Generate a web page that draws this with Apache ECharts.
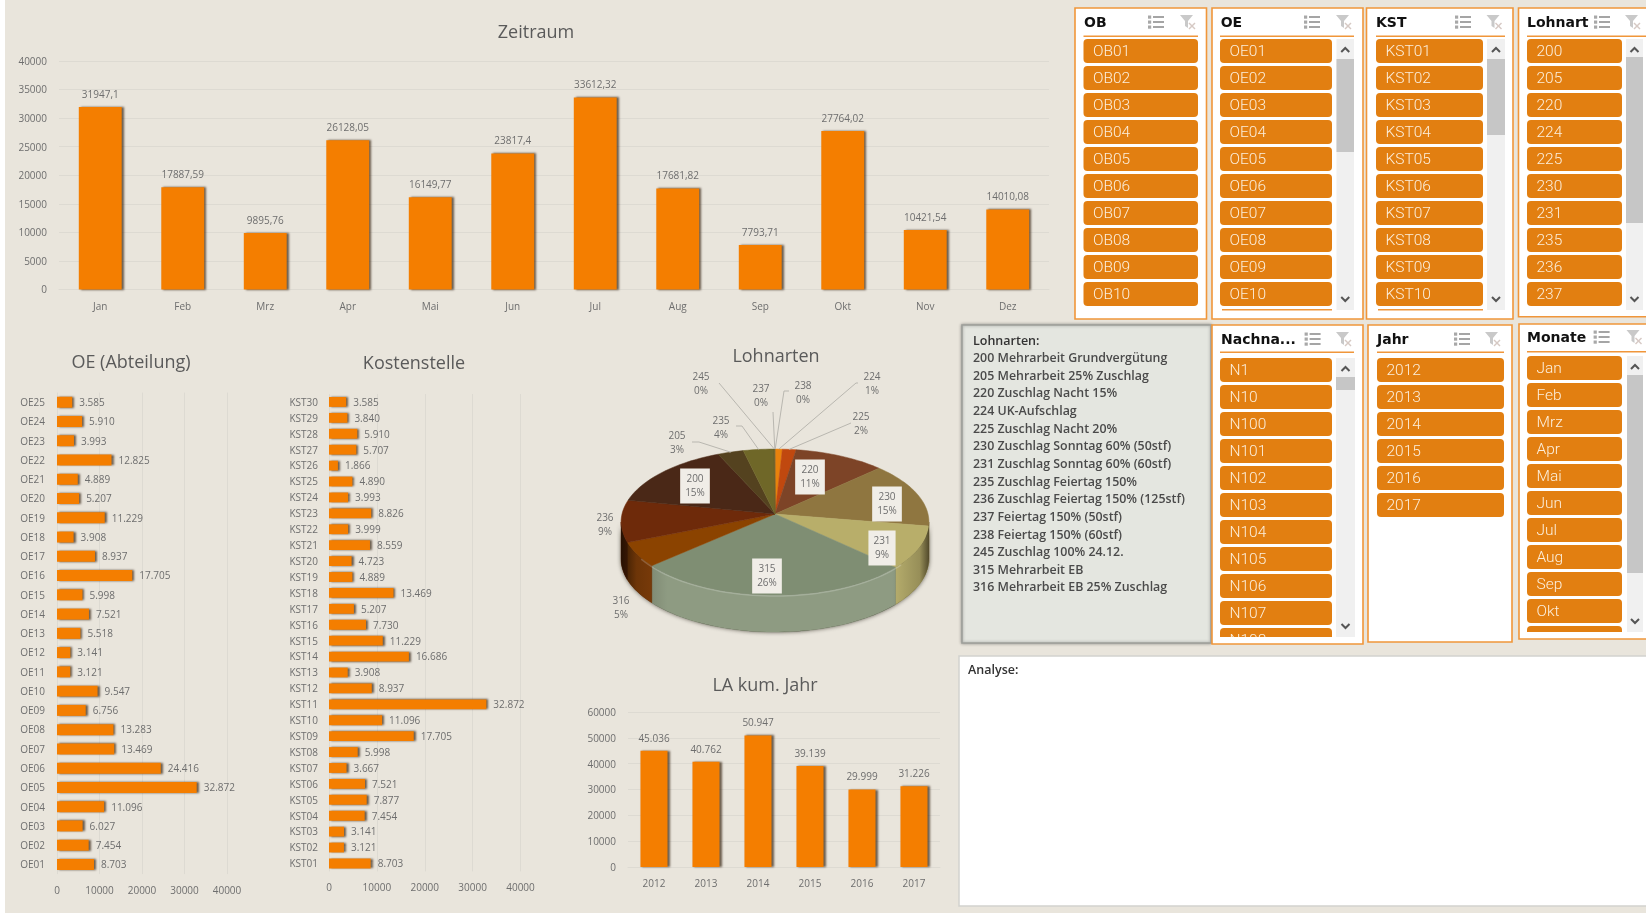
<!DOCTYPE html>
<html><head><meta charset="utf-8">
<style>html,body{margin:0;padding:0;background:#fff;overflow:hidden}#c{width:1646px;height:913px;filter:blur(.55px)}</style>
<script src="https://cdn.jsdelivr.net/npm/echarts@6/dist/echarts.min.js"></script>
</head><body><div id="c"></div>
<script>
const months = ['Jan','Feb','Mrz','Apr','Mai','Jun','Jul','Aug','Sep','Okt','Nov','Dez'];
const zeitraumValues = [31947.1,17887.59,9895.76,26128.05,16149.77,23817.4,33612.32,17681.82,7793.71,27764.02,10421.54,14010.08];
const oeNames = ['OE01','OE02','OE03','OE04','OE05','OE06','OE07','OE08','OE09','OE10','OE11','OE12','OE13','OE14','OE15','OE16','OE17','OE18','OE19','OE20','OE21','OE22','OE23','OE24','OE25'];
const oeValues = [8703,7454,6027,11096,32872,24416,13469,13283,6756,9547,3121,3141,5518,7521,5998,17705,8937,3908,11229,5207,4889,12825,3993,5910,3585];
const kstNames = ['KST01','KST02','KST03','KST04','KST05','KST06','KST07','KST08','KST09','KST10','KST11','KST12','KST13','KST14','KST15','KST16','KST17','KST18','KST19','KST20','KST21','KST22','KST23','KST24','KST25','KST26','KST27','KST28','KST29','KST30'];
const kstValues = [8703,3121,3141,7454,7877,7521,3667,5998,17705,11096,32872,8937,3908,16686,11229,7730,5207,13469,4889,4723,8559,3999,8826,3993,4890,1866,5707,5910,3840,3585];
const years = ['2012','2013','2014','2015','2016','2017'];
const yearValues = [45036,40762,50947,39139,29999,31226];
const pieNames = ['238','224','225','220','230','231','315','316','236','200','205','235','245','237'];
const pieValues = [0.05,0.8,1.6,10.6,14.6,9.4,26.4,5.4,9.3,15.2,3.0,3.6,0.05,0.05];
const pieColors = ['#A0772A','#E8820C','#C0480F','#7D4427','#8F7640','#B8AE6A','#7F8E73','#8B4300','#6E2A0A','#4A2817','#54421F','#6F6728','#5A4A20','#7A6A30'];
const pieWalls  = ['#A0772A','#E8820C','#C0480F','#7D4427','#7F6838','#B9B06E','#8E9B82','#84400A','#5E2408','#4A2817','#54421F','#6F6728','#5A4A20','#7A6A30'];
/* label centres relative to the pie centre, with an optional box flag */
const pieLabelLayout = [[28,-121,0],[97,-130,0],[86,-90,0],[35,-37,1],[112,-10,1],[107,34,1],[-8,62,1],[-154,94,0],[-170,11,0],[-80,-28,1],[-98,-71,0],[-54,-86,0],[-74,-130,0],[-14,-118,0]];
const pieLeaderLayout = [[14,-123,9,-123],[83,-131,81,-131],[76,-91,null,null],null,null,null,null,null,null,null,[-83,-72,-76,-72],[-39,-88,-33,-88],[-56,-131,null,null],[-2,-102,null,null]];
const lohnartenText = ['200 Mehrarbeit Grundvergütung','205 Mehrarbeit 25% Zuschlag','220 Zuschlag Nacht 15%','224 UK-Aufschlag','225 Zuschlag Nacht 20%','230 Zuschlag Sonntag 60% (50stf)','231 Zuschlag Sonntag 60% (60stf)','235 Zuschlag Feiertag 150%','236 Zuschlag Feiertag 150% (125stf)','237 Feiertag 150% (50stf)','238 Feiertag 150% (60stf)','245 Zuschlag 100% 24.12.','315 Mehrarbeit EB','316 Mehrarbeit EB 25% Zuschlag'];
const slicerOB = ['OB01','OB02','OB03','OB04','OB05','OB06','OB07','OB08','OB09','OB10'];
const slicerOE = oeNames.slice(0,10);
const slicerKST = kstNames.slice(0,10);
const slicerLA = ['200','205','220','224','225','230','231','235','236','237'];
const slicerN = ['N1','N10','N100','N101','N102','N103','N104','N105','N106','N107','N108'];
const slicerJahr = years;
const slicerMon = months.slice(0,11);

const FONT='"Open Sans",sans-serif', GREY='#6E6E6E', TITLE='#5A5A5A', GRID='#DDDAD2', ORANGE='#F47E00', BG='#E9E5DC';
const de = v => Math.round(v).toString().replace(/\B(?=(\d{3})+$)/g,'.');
const barStyle = {color:ORANGE,shadowColor:'rgba(40,20,0,.65)',shadowBlur:2,shadowOffsetX:2,shadowOffsetY:0};
const axLab = (m,low) => Object.assign({color:GREY,fontFamily:FONT,fontSize:10,margin:m,formatter:v=>String(v)},low?{verticalAlign:'top',padding:[-4,0,0,0]}:{});
const split = {show:true,lineStyle:{color:GRID,width:1}};
const none = {show:false};

const grids=[
 {left:59,top:61,width:990,height:228.5},
 {left:57,top:392.6,width:170,height:481.5},
 {left:329,top:394,width:191.5,height:477.4},
 {left:628,top:712,width:312,height:155}];
const xAxis=[
 {gridIndex:0,type:'category',data:months,axisLine:{lineStyle:{color:GRID}},axisTick:none,axisLabel:axLab(13)},
 {gridIndex:1,type:'value',min:0,max:40000,interval:10000,splitLine:split,axisLine:none,axisTick:none,axisLabel:axLab(12)},
 {gridIndex:2,type:'value',min:0,max:40000,interval:10000,splitLine:split,axisLine:none,axisTick:none,axisLabel:axLab(12)},
 {gridIndex:3,type:'category',data:years,axisLine:{lineStyle:{color:GRID}},axisTick:none,axisLabel:axLab(12)}];
const yAxis=[
 {gridIndex:0,type:'value',min:0,max:40000,interval:5000,splitLine:split,axisLine:none,axisTick:none,axisLabel:axLab(12,1)},
 {gridIndex:1,type:'category',data:oeNames,axisLine:none,axisTick:none,axisLabel:Object.assign(axLab(12,1),{interval:0})},
 {gridIndex:2,type:'category',data:kstNames,axisLine:none,axisTick:none,axisLabel:Object.assign(axLab(11,1),{interval:0})},
 {gridIndex:3,type:'value',min:0,max:60000,interval:10000,splitLine:split,axisLine:none,axisTick:none,axisLabel:axLab(12,1)}];
const lab=(pos,fmt,dist,low)=>Object.assign({show:true,position:pos,distance:dist,color:GREY,fontFamily:FONT,fontSize:10,formatter:p=>fmt(p.value)},low?{verticalAlign:'top',padding:[-4,0,0,0]}:{});

/* pseudo-3D pie: a perspective view of a circle, all geometry follows the values */
const P={ax:775,ay:514,A:153,B:72.1,k:0.11,d:37,start:0,vis0:96.3,vis1:263.7};
const pieTotal=pieValues.reduce((a,b)=>a+b,0);
const ell=(t,dy)=>{const r=t*Math.PI/180,u=Math.sin(r),v=-Math.cos(r),w=1-P.k*v;return [P.ax+P.A*u/w,P.ay+P.B*v/w+(dy||0)];};
const arc=(a,b,dy)=>{const o=[],n=Math.max(2,Math.ceil((b-a)/2));for(let i=0;i<=n;i++)o.push(ell(a+(b-a)*i/n,dy));return o;};
function renderPie(params,api){
  const i=params.dataIndex; let cum=0; for(let k=0;k<i;k++)cum+=pieValues[k];
  const v=api.value(0), a=P.start+cum/pieTotal*360, b=a+v/pieTotal*360, mid=(a+b)/2, kids=[];
  const front=arc(P.vis0,P.vis1,0).concat(arc(P.vis0,P.vis1,P.d).reverse());
  if(i===0){
    kids.push({type:'polygon',z2:-2,shape:{points:front},style:{fill:'#2a2418',shadowColor:'rgba(20,15,5,.7)',shadowBlur:4}});
  }
  const la=Math.max(a,P.vis0), lb=Math.min(b,P.vis1);
  if(lb>la){
    kids.push({type:'polygon',z2:1,shape:{points:arc(la,lb,0).concat(arc(la,lb,P.d).reverse())},style:{fill:pieWalls[i],stroke:pieWalls[i],lineWidth:.5}});
  }
  kids.push({type:'polygon',z2:2,shape:{points:[[P.ax,P.ay]].concat(arc(a,b,0))},style:{fill:pieColors[i],stroke:pieColors[i],lineWidth:.5}});
  if(i===pieValues.length-1){
    kids.push({type:'polygon',z2:3,shape:{points:front},style:{fill:{type:'linear',x:0,y:0,x2:1,y2:0,colorStops:[{offset:0,color:'rgba(15,8,0,.7)'},{offset:.05,color:'rgba(15,8,0,.2)'},{offset:.15,color:'rgba(0,0,0,0)'},{offset:.88,color:'rgba(0,0,0,0)'},{offset:.97,color:'rgba(15,8,0,.2)'},{offset:1,color:'rgba(15,8,0,.6)'}]}}});
    kids.push({type:'polyline',z2:3,shape:{points:arc(130,235,1)},style:{fill:null,stroke:'rgba(255,255,255,.2)',lineWidth:1.5}});
  }
  const L=pieLabelLayout[i], lx=P.ax+L[0], ly=P.ay+L[1];
  const pct=Math.round(v/pieTotal*100);
  const T=pieLeaderLayout[i];
  if(T){
    const e=ell(mid,0), pts=[[P.ax+T[0],P.ay+T[1]]];
    if(T[2]!==null)pts.push([P.ax+T[2],P.ay+T[3]]);
    pts.push(e);
    kids.push({type:'polyline',z2:4,shape:{points:pts},style:{fill:null,stroke:'#B9B7B0',lineWidth:1}});
  }
  kids.push({type:'text',z2:6,style:{text:pieNames[i]+'\n'+pct+'%',x:lx,y:ly,align:'center',verticalAlign:'middle',fill:GREY,font:'10px '+FONT,lineHeight:14,
     backgroundColor:L[2]?'#F0EDE7':null,padding:L[2]?[4,5,3,5]:0}});
  return {type:'group',children:kids};
}

/* slicer panels */
const gfx=[]; const OR='#F0963A', IT='#E27F11';
const rect=(x,y,w,h,fill,extra)=>gfx.push({type:'rect',silent:true,shape:Object.assign({x,y,width:w,height:h},extra&&extra.shape),style:Object.assign({fill},extra&&extra.style)});
const text=(t,x,y,font,fill,ext)=>gfx.push({type:'text',silent:true,style:Object.assign({text:t,x,y,font,fill,verticalAlign:'middle'},ext)});
const line=(pts,stroke,w)=>gfx.push({type:'polyline',silent:true,shape:{points:pts},style:{fill:null,stroke,lineWidth:w||1}});
function icons(x1,x2,y){
  for(let k=0;k<3;k++){
    line([[x1-3,y-5+k*5],[x1+8,y-5+k*5]],'#8F8F8F',1.6);
    rect(x1-8,y-6.5+k*5,3.2,3.2,'#A8A8A8');
  }
  gfx.push({type:'polygon',silent:true,shape:{points:[[x2-7,y-7],[x2+6,y-7],[x2+1,y-1],[x2+1,y+6],[x2-2,y+4],[x2-2,y-1]]},style:{fill:'#C9C9C9'}});
  line([[x2+2,y+1],[x2+8,y+7]],'#D6C9C4',1.4);line([[x2+8,y+1],[x2+2,y+7]],'#D6C9C4',1.4);
}
function panel(c){
  rect(c.x,c.y,c.w,c.h,'#fff');
  rect(c.ix,c.uy,c.iw+(c.ux||0),1.5,OR);
  text(c.title,c.tx,c.hy+1,'bold 14px "DejaVu Sans",sans-serif','#111');
  icons(c.ic1,c.ic2,c.hy);
  c.items.forEach((t,i)=>{
    const y=c.iy+i*27;
    rect(c.ix,y,c.iw,24,IT,{shape:{r:4}});
    text(t,c.ix+9.5,y+13.5,'300 15.5px Roboto,sans-serif','#FCEFDD');
  });
  if(c.cover){
    rect(c.x,c.cover,c.x2-c.x,c.y+c.h-c.cover,'#fff');
    rect(c.x-1,c.y+c.h,c.x2-c.x+2,14,BG);
  }
  if(c.sb){
    rect(c.sb,c.iy,c.sw,c.sh,'#F0F0F0');
    rect(c.sb,c.th0,c.sw,c.th1-c.th0,'#C6C6C6');
    const m=c.sb+c.sw/2, t=c.iy+10, b=c.iy+c.sh-10;
    line([[m-4,t+3],[m,t-1],[m+4,t+3]],'#555',2);
    line([[m-4,b-3],[m,b+1],[m+4,b-3]],'#555',2);
  }
  rect(c.x,c.y,c.w,c.h,null,{style:{fill:null,stroke:OR,lineWidth:1.6}});
}
const topRow=(o)=>Object.assign({y:8,h:311,iy:39,uy:35.5,hy:22,sh:271},o);
rect(0,0,5,913,'#fff');
panel(topRow({x:1075,w:131.5,tx:1084,title:'OB',ix:1083.5,iw:114.5,ic1:1156,ic2:1187,items:slicerOB}));
panel(topRow({x:1212,w:151,tx:1220.7,title:'OE',ix:1220,iw:112,ux:22,ic1:1312,ic2:1343,items:slicerOE,sb:1336.5,sw:17.5,th0:59,th1:152}));
rect(1222,309,110,1.5,OR);
panel(topRow({x:1366.5,w:146.5,tx:1376,title:'KST',ix:1376,iw:107,ux:22,ic1:1463,ic2:1493.5,items:slicerKST,sb:1487,sw:18,th0:59,th1:135}));
rect(1378,309,105,1.5,OR);
panel(topRow({x:1518.5,w:130,h:308.7,tx:1527,title:'Lohnart',ix:1527,iw:95,ux:30,ic1:1602,ic2:1632,items:slicerLA,sb:1626,sw:17,th0:57,th1:223}));
/* text box */
rect(962,325,249,318,'#E4E6E0',{style:{stroke:'#9EA09B',lineWidth:1.6,shadowColor:'rgba(60,60,60,.45)',shadowBlur:3}});
text('Lohnarten:',973,341,'600 12.5px '+FONT,'#333');
lohnartenText.forEach((t,i)=>text(t,973,358.5+i*17.65,'600 12.4px '+FONT,'#4A4A4A'));
panel({x:1212,y:325,w:151,h:319,tx:1221,title:'Nachna...',ix:1220,iw:112,ux:22,uy:351.5,hy:339,iy:358,ic1:1312.6,ic2:1343,items:slicerN,cover:637,x2:1363,sb:1336,sw:19,sh:279,th0:377,th1:390});
panel({x:1368,y:325,w:144,h:317,tx:1377,title:'Jahr',ix:1377,iw:127,uy:351.5,hy:339,iy:358,ic1:1462,ic2:1492,items:slicerJahr});
panel({x:1519,y:324,w:130,h:315,tx:1527,title:'Monate',ix:1527,iw:95,ux:30,uy:351,hy:337,iy:356,ic1:1601.6,ic2:1633.5,items:slicerMon,cover:632,x2:1646,sb:1627,sw:16,sh:276,th0:375,th1:573});
/* analysis box */
rect(959,656,690,250,'#fff',{style:{stroke:'#D2D2CE',lineWidth:1.5}});
text('Analyse:',968,670,'600 12.5px '+FONT,'#333');

const chart=echarts.init(document.getElementById('c'),null,{renderer:'canvas'});
const ttl=(t,x,y)=>({text:t,left:x,top:y,textAlign:'center',textStyle:{fontFamily:FONT,fontWeight:'normal',fontSize:18,color:TITLE}});
chart.setOption({
  animation:false,backgroundColor:BG,
  title:[ttl('Zeitraum',531,19),ttl('OE (Abteilung)',126,349),ttl('Kostenstelle',409,350),ttl('Lohnarten',771,343),ttl('LA kum. Jahr',760,672)],
  grid:grids,xAxis,yAxis,
  graphic:{elements:gfx},
  series:[
   {type:'bar',name:'Zeitraum',xAxisIndex:0,yAxisIndex:0,data:zeitraumValues,barWidth:'52%',itemStyle:barStyle,label:lab('top',v=>String(v).replace('.',','),7)},
   {type:'bar',name:'OE',xAxisIndex:1,yAxisIndex:1,data:oeValues,barWidth:'57%',itemStyle:barStyle,label:lab('right',de,7,1)},
   {type:'bar',name:'Kostenstelle',xAxisIndex:2,yAxisIndex:2,data:kstValues,barWidth:'62%',itemStyle:barStyle,label:lab('right',de,7,1)},
   {type:'bar',name:'LA kum. Jahr',xAxisIndex:3,yAxisIndex:3,data:yearValues,barWidth:'52%',itemStyle:barStyle,label:lab('top',de,7)},
   {type:'custom',name:'Lohnarten',coordinateSystem:'none',renderItem:renderPie,data:pieValues.map((v,i)=>({name:pieNames[i],value:v}))}
  ]
});
</script></body></html>
